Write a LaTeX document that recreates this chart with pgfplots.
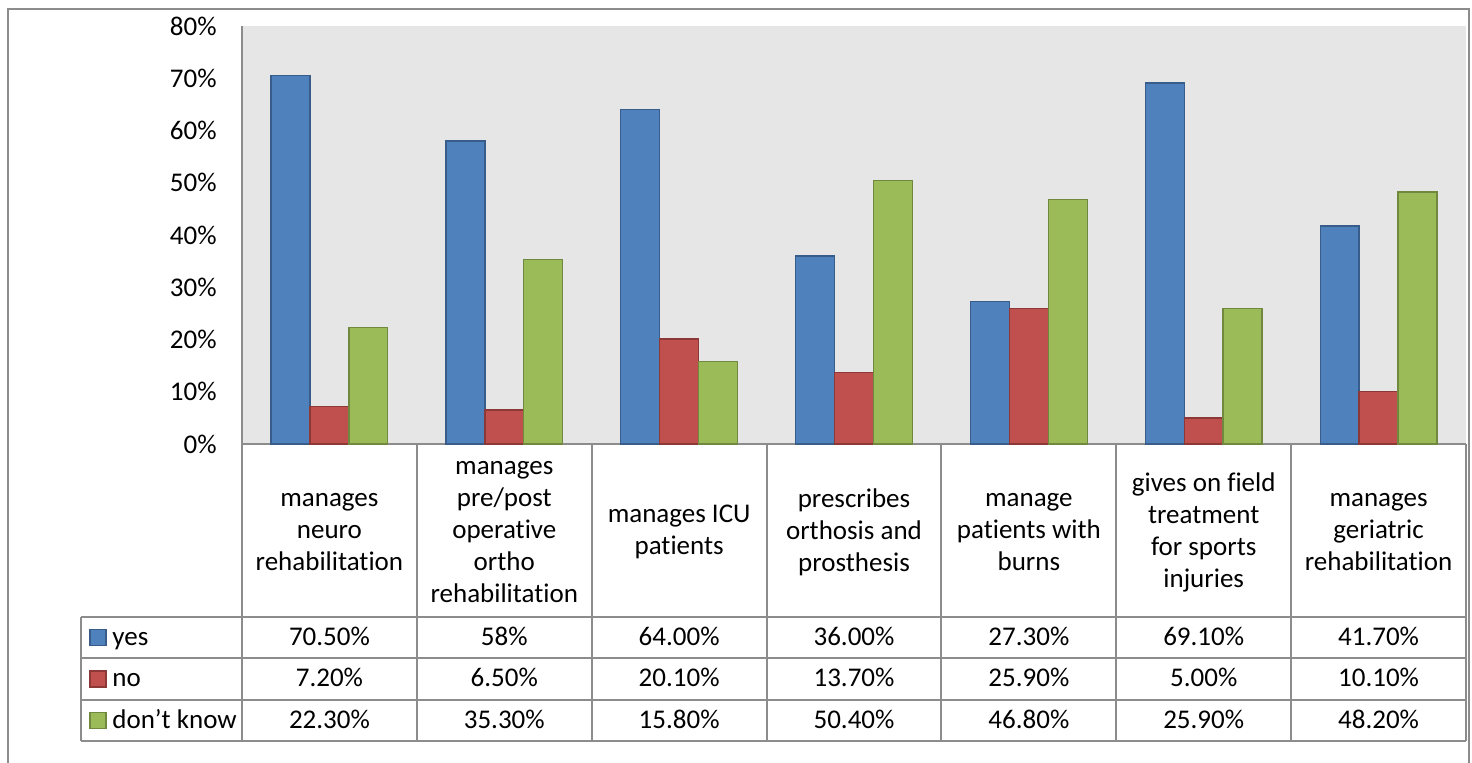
\documentclass[border=0pt]{standalone}
\usepackage{pgfplots}
\pgfplotsset{compat=1.18}
\usepackage{pgfplotstable}
\usepackage{fontspec}
\setmainfont{Carlito}[Ligatures=NoCommon]
\definecolor{cyes}{HTML}{4F81BD}
\definecolor{cyesd}{HTML}{385D8A}
\definecolor{cno}{HTML}{C0504D}
\definecolor{cnod}{HTML}{8C3836}
\definecolor{cdk}{HTML}{9BBB59}
\definecolor{cdkd}{HTML}{71893F}
\definecolor{plotgray}{HTML}{E6E6E6}
\definecolor{linegray}{HTML}{8C8C8C}
\pgfplotstableread{
x yes no dk
0 70.5 7.2 22.3
1 58.0 6.5 35.3
2 64.0 20.1 15.8
3 36.0 13.7 50.4
4 27.3 25.9 46.8
5 69.1 5.0 25.9
6 41.7 10.1 48.2
}\data
\begin{document}
\fontsize{13.5}{16}\selectfont
\begin{tikzpicture}
\begin{axis}[at={(121pt,-222pt)}, anchor=south west, scale only axis,
  width=612pt, height=209pt, xmin=-0.5, xmax=6.5, ymin=0, ymax=80,
  ybar=0pt, bar width=19.45pt,
  axis background/.style={fill=plotgray},
  axis x line*=bottom, axis y line*=left,
  axis line style={draw=linegray, line width=1pt, -},
  xtick=\empty, ytick={0,10,...,80}, major tick length=0pt,
  /pgf/number format/assume math mode=true,
  yticklabel={\pgfmathprintnumber{\tick}\%},
  tick label style={font=\fontsize{13.5}{16}\selectfont},
  yticklabel style={xshift=-8pt},
  clip=false]
\addplot[fill=cyes, draw=cyesd, line width=0.7pt] table[x=x,y=yes]{\data};
\addplot[fill=cno, draw=cnod, line width=0.7pt] table[x=x,y=no]{\data};
\addplot[fill=cdk, draw=cdkd, line width=0.7pt] table[x=x,y=dk]{\data};
\end{axis}
\begin{scope}[x=0.5pt,y=-0.5pt]
\useasboundingbox (0,0) rectangle (1472,762);
\draw[linegray, line width=1pt] (8,770) -- (8,9) -- (1469,9) -- (1469,770);
\foreach \k in {0,...,7}{\draw[linegray, line width=1pt] ({242+174.857*\k},444) -- ({242+174.857*\k},741);}
\foreach \yy in {617,658,700,741}{\draw[linegray, line width=1pt] (81,\yy) -- (1466,\yy);}
\draw[linegray, line width=1pt] (81,617) -- (81,741);
\tikzset{cat/.style={align=center, font=\fontsize{13.5}{16}\selectfont}}
\node[cat] at ({242+174.857*0.5},532) {manages\\neuro\\rehabilitation};
\node[cat] at ({242+174.857*1.5},532) {manages\\pre/post\\operative\\ortho\\rehabilitation};
\node[cat] at ({242+174.857*2.5},532) {manages ICU\\patients};
\node[cat] at ({242+174.857*3.5},532) {prescribes\\orthosis and\\prosthesis};
\node[cat] at ({242+174.857*4.5},532) {manage\\patients with\\burns};
\node[cat] at ({242+174.857*5.5},532) {gives on field\\treatment\\for sports\\injuries};
\node[cat] at ({242+174.857*6.5},532) {manages\\geriatric\\rehabilitation};
\foreach \v [count=\i from 0] in {70.50\%,58\%,64.00\%,36.00\%,27.30\%,69.10\%,41.70\%}
  {\node[anchor=base, inner sep=0pt] at ({242+174.857*(\i+0.5)},645) {\v};}
\foreach \v [count=\i from 0] in {7.20\%,6.50\%,20.10\%,13.70\%,25.90\%,5.00\%,10.10\%}
  {\node[anchor=base, inner sep=0pt] at ({242+174.857*(\i+0.5)},686.5) {\v};}
\foreach \v [count=\i from 0] in {22.30\%,35.30\%,15.80\%,50.40\%,46.80\%,25.90\%,48.20\%}
  {\node[anchor=base, inner sep=0pt] at ({242+174.857*(\i+0.5)},728) {\v};}
\draw[fill=cyes, draw=cyesd, line width=0.7pt] (90,629.5) rectangle (106,645.5);
\draw[fill=cno, draw=cnod, line width=0.7pt] (90,671) rectangle (106,687);
\draw[fill=cdk, draw=cdkd, line width=0.7pt] (90,712.5) rectangle (106,728.5);
\node[anchor=base west, inner sep=0pt] at (112,645) {yes};
\node[anchor=base west, inner sep=0pt] at (112,686.5) {no};
\node[anchor=base west, inner sep=0pt] at (112,728) {don’t know};
\end{scope}
\end{tikzpicture}
\end{document}
